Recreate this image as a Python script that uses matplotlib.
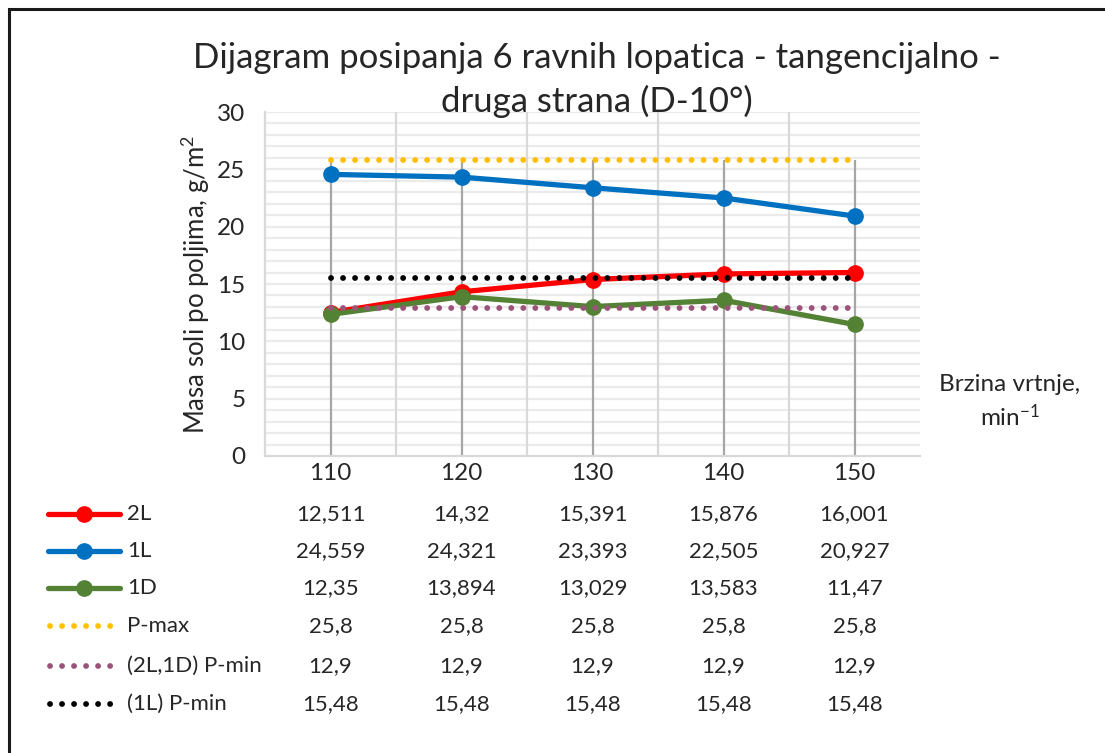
import matplotlib.pyplot as plt
import numpy as np
from matplotlib.lines import Line2D
from matplotlib.patches import Rectangle

plt.rcParams['font.family'] = ['Lato', 'DejaVu Sans']
plt.rcParams['mathtext.default'] = 'regular'

# data
speeds = [110, 120, 130, 140, 150]
s_2L = [12.511, 14.32, 15.391, 15.876, 16.001]
s_1L = [24.559, 24.321, 23.393, 22.505, 20.927]
s_1D = [12.35, 13.894, 13.029, 13.583, 11.47]
p_max = [25.8, 25.8, 25.8, 25.8, 25.8]
p_min_2L1D = [12.9, 12.9, 12.9, 12.9, 12.9]
p_min_1L = [15.48, 15.48, 15.48, 15.48, 15.48]

names = ['2L', '1L', '1D', 'P-max', '(2L,1D) P-min', '(1L) P-min']
series = [s_2L, s_1L, s_1D, p_max, p_min_2L1D, p_min_1L]
labels_tbl = [['12,511', '14,32', '15,391', '15,876', '16,001'],
              ['24,559', '24,321', '23,393', '22,505', '20,927'],
              ['12,35', '13,894', '13,029', '13,583', '11,47'],
              ['25,8', '25,8', '25,8', '25,8', '25,8'],
              ['12,9', '12,9', '12,9', '12,9', '12,9'],
              ['15,48', '15,48', '15,48', '15,48', '15,48']]
colors = ['#ff0000', '#0070c0', '#548235', '#ffc000', '#9b5479', '#000000']
solid = [True, True, True, False, False, False]

W, H = 1105, 753
fig = plt.figure(figsize=(W / 100, H / 100), dpi=100)
ax = fig.add_axes([265 / W, 1 - 456 / H, (920 - 265) / W, (456 - 112) / H])

x = np.arange(len(speeds))
ax.set_xlim(-0.5, len(speeds) - 0.5)
ax.set_ylim(0, 30)

# grid
for yy in range(1, 31):
    ax.axhline(yy, color='#ebebeb', lw=1.6, zorder=0)
for xx in np.arange(0.5, len(speeds) - 0.5, 1):
    ax.axvline(xx, color='#d9d9d9', lw=1.6, zorder=0)
top = [max(v) for v in zip(*series)]
ax.vlines(x, 0, top, color='#a6a6a6', lw=1.6, zorder=1)

for vals, c, s in zip(series, colors, solid):
    if s:
        ax.plot(x, vals, color=c, lw=3.8, marker='o', ms=11, zorder=3)
    else:
        ax.plot(x, vals, color=c, lw=4.2, linestyle=(0, (0.01, 2.05)),
                dash_capstyle='round', zorder=4)

for sp in ['top', 'right']:
    ax.spines[sp].set_visible(False)
for sp in ['left', 'bottom']:
    ax.spines[sp].set_color('#d9d9d9')
    ax.spines[sp].set_linewidth(1.6)
ax.set_yticks(range(0, 31, 5))
ax.set_xticks(x)
ax.set_xticklabels([str(s) for s in speeds])
ax.tick_params(length=0, labelsize=17.5, colors='#262626')
ax.tick_params(axis='x', pad=5)
ax.tick_params(axis='y', pad=14)

ax.set_ylabel('Masa soli po poljima, g/m$^2$', fontsize=18.5, color='#262626', labelpad=4)

fig.text(597 / W, 1 - 58 / H, 'Dijagram posipanja 6 ravnih lopatica - tangencijalno -',
         ha='center', va='center', fontsize=25, color='#262626')
fig.text(597 / W, 1 - 101 / H, 'druga strana (D-10°)',
         ha='center', va='center', fontsize=25, color='#262626')
fig.text(1010 / W, 1 - 402 / H, 'Brzina vrtnje,\nmin$^{-1}$', ha='center', va='center',
         fontsize=17.5, color='#262626', linespacing=1.35)

# data table with legend keys
rows_y = [514, 551, 588, 626, 666, 704]
for name, c, s, vals, yp in zip(names, colors, solid, labels_tbl, rows_y):
    fy = 1 - yp / H
    if s:
        fig.add_artist(Line2D([48 / W, 120 / W], [fy, fy], color=c, lw=3.8,
                              solid_capstyle='round'))
        fig.add_artist(Line2D([84 / W], [fy], color=c, marker='o', ms=11))
    else:
        fig.add_artist(Line2D([50 / W, 114 / W], [fy, fy], color=c, lw=4.2,
                              linestyle=(0, (0.01, 2.05)), dash_capstyle='round'))
    fig.text(127 / W, fy, name, ha='left', va='center', fontsize=16, color='#262626')
    for xi, v in zip(x, vals):
        xf = fig.transFigure.inverted().transform(ax.transData.transform((xi, 0)))[0]
        fig.text(xf, fy, v, ha='center', va='center', fontsize=16, color='#262626')

fig.add_artist(Rectangle((9 / W, -0.1), 1.2, 1 - 9 / H + 0.1, transform=fig.transFigure,
                         fill=False, edgecolor='#1a1a1a', lw=2.2))

fig.savefig('out.png', dpi=100)
